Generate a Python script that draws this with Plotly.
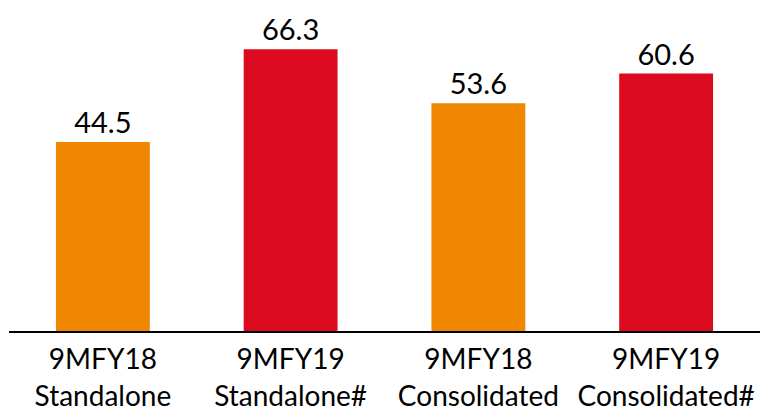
import plotly.graph_objects as go

categories = ["9MFY18<br>Standalone", "9MFY19<br>Standalone#", "9MFY18<br>Consolidated", "9MFY19<br>Consolidated#"]
values = [44.5, 66.3, 53.6, 60.6]
value_labels = ["44.5", "66.3", "53.6", "60.6"]
colors = ["#F08700", "#DC0A1E", "#F08700", "#DC0A1E"]

FONT = "Lato"

fig = go.Figure(go.Bar(
    x=categories, y=values, marker_color=colors, marker_line_width=0,
    text=value_labels, textposition="outside", cliponaxis=False,
    textfont=dict(family=FONT, size=29, color="#000000"),
    hoverinfo="skip",
))

fig.update_layout(
    width=763, height=413,
    margin=dict(l=9, r=3, t=20, b=82, autoexpand=False),
    paper_bgcolor="white", plot_bgcolor="white",
    bargap=0.5, showlegend=False,
    font=dict(family=FONT, size=28, color="#000000"),
)
fig.update_xaxes(showline=True, linecolor="#000000", linewidth=1.5, ticks="", showgrid=False,
                 automargin=False, ticklabelstandoff=3,
                 tickfont=dict(family=FONT, size=28, color="#000000"))
fig.update_yaxes(range=[0, 73.2], visible=False, showgrid=False, automargin=False)

fig.write_html("out.html", config={"displayModeBar": False},
               post_script="document.body.style.margin='0';document.body.style.overflow='hidden';")
